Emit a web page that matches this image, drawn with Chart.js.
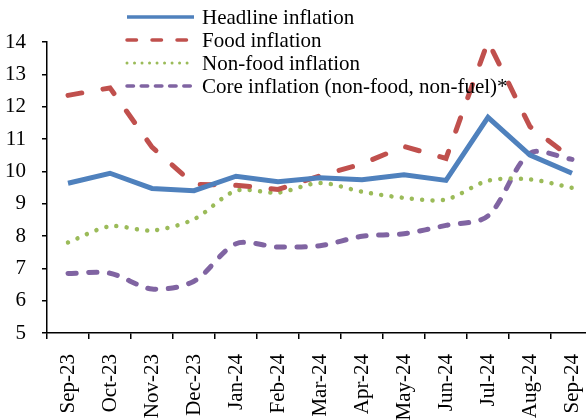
<!DOCTYPE html>
<html>
<head>
<meta charset="utf-8">
<script src="https://cdn.jsdelivr.net/npm/chart.js@4.4.1/dist/chart.umd.min.js"></script>
<style>
html,body{margin:0;padding:0;background:#fff;overflow:hidden;width:586px;height:420px;}
#wrap{position:absolute;left:0;top:0;width:620px;height:420px;}
</style>
</head>
<body>
<div id="wrap"><canvas id="c" width="620" height="420"></canvas></div>
<script>
const months = ["Sep-23","Oct-23","Nov-23","Dec-23","Jan-24","Feb-24","Mar-24","Apr-24","May-24","Jun-24","Jul-24","Aug-24","Sep-24"];
const headline = [9.63, 9.94, 9.47, 9.40, 9.85, 9.68, 9.80, 9.74, 9.89, 9.72, 11.67, 10.50, 9.94];
const food     = [12.35, 12.58, 10.75, 9.60, 9.57, 9.44, 9.86, 10.23, 10.77, 10.40, 14.02, 11.38, 10.40];
const nonFood  = [7.80, 8.30, 8.17, 8.52, 9.40, 9.34, 9.64, 9.37, 9.18, 9.13, 9.71, 9.75, 9.49];
const core     = [6.84, 6.85, 6.36, 6.60, 7.76, 7.66, 7.70, 7.99, 8.07, 8.33, 8.62, 10.56, 10.37];
const seriesNames = ["Headline inflation","Food inflation","Non-food inflation","Core inflation (non-food, non-fuel)*"];
const yTicks = [5,6,7,8,9,10,11,12,13,14];

const FONT = "'Liberation Serif','Times New Roman',serif";

// legend sample styles (thinner than plotted lines, as in the reference)
const legendStyles = [
  {width: 3.5, dash: [], cap: 'butt'},
  {width: 3.5, dash: [9.5, 15.5], cap: 'round'},
  {width: 3, dash: [0.01, 7.5], cap: 'round'},
  {width: 3.5, dash: [6.5, 7.7], cap: 'round'}
];

const legendPlugin = {
  id: 'vlegend',
  afterDatasetsDraw(chart) {
    const ctx = chart.ctx;
    const rows = [17, 40, 63, 86];
    chart.data.datasets.forEach((ds, i) => {
      const y = rows[i];
      const st = legendStyles[i];
      ctx.save();
      ctx.strokeStyle = ds.borderColor;
      ctx.lineWidth = st.width;
      ctx.lineCap = st.cap;
      ctx.setLineDash(st.dash);
      ctx.beginPath();
      ctx.moveTo(127, y);
      ctx.lineTo(194, y);
      ctx.stroke();
      ctx.setLineDash([]);
      ctx.fillStyle = '#000';
      ctx.font = "21px " + FONT;
      ctx.textBaseline = 'middle';
      ctx.textAlign = 'left';
      ctx.fillText(ds.label, 202, y + 1);
      ctx.restore();
    });
  }
};

new Chart(document.getElementById('c'), {
  type: 'line',
  data: {
    labels: months,
    datasets: [
      {label: seriesNames[0], data: headline, borderColor: '#4F81BD', borderWidth: 5, tension: 0, pointRadius: 0, fill: false},
      {label: seriesNames[1], data: food, borderColor: '#C0504D', borderWidth: 5, borderDash: [14, 21.5], borderCapStyle: 'round', tension: 0, pointRadius: 0, fill: false},
      {label: seriesNames[2], data: nonFood, borderColor: '#9BBB59', borderWidth: 4.5, borderDash: [0.01, 10.3], borderCapStyle: 'round', tension: 0.3, pointRadius: 0, fill: false},
      {label: seriesNames[3], data: core, borderColor: '#8064A2', borderWidth: 5, borderDash: [8.3, 12.4], borderCapStyle: 'round', tension: 0.3, pointRadius: 0, fill: false}
    ]
  },
  options: {
    responsive: false,
    animation: false,
    layout: {padding: {top: 42, right: 27, left: 0, bottom: 0}},
    plugins: {legend: {display: false}, tooltip: {enabled: false}},
    scales: {
      x: {
        offset: true,
        grid: {display: true, offset: true, drawOnChartArea: false, drawTicks: true, tickLength: 6, color: '#000', lineWidth: 1.5},
        border: {display: true, color: '#000', width: 1.5},
        ticks: {color: '#000', font: {family: FONT, size: 21}, minRotation: 90, maxRotation: 90, padding: 15, autoSkip: false},
        afterFit: s => { s.height = 87; }
      },
      y: {
        min: 5, max: 14,
        afterBuildTicks: s => { s.ticks = yTicks.map(v => ({value: v})); },
        grid: {display: true, drawOnChartArea: false, drawTicks: true, tickLength: 5, color: '#000', lineWidth: 1.5},
        border: {display: true, color: '#000', width: 1.5},
        ticks: {color: '#000', font: {family: FONT, size: 21}, padding: 16},
        afterFit: s => { s.width = 47; }
      }
    }
  },
  plugins: [legendPlugin]
});
</script>
</body>
</html>
